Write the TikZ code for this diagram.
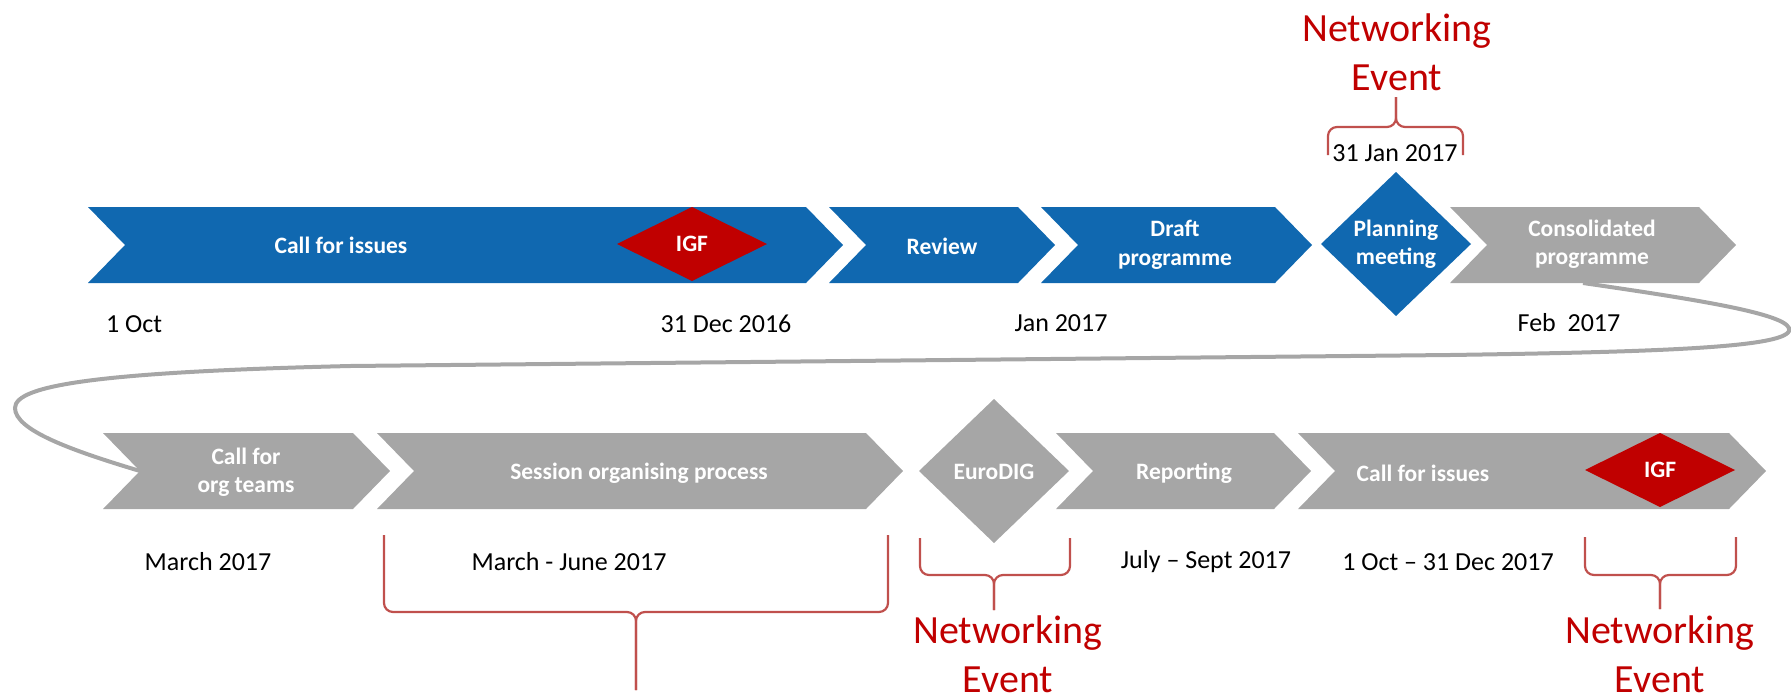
\documentclass[tikz,border=0pt]{standalone}
\usepackage{fontspec}
\setmainfont{Carlito}
\definecolor{stepBlue}{HTML}{1068B0}
\definecolor{stepGray}{HTML}{A6A6A6}
\definecolor{igfRed}{HTML}{C00000}
\definecolor{braceRed}{HTML}{C0504D}
\newcommand\mychev[4]{%
  \fill[#4] (#1,#3-38) -- (#2,#3-38) -- (#2+37,#3) -- (#2,#3+38) -- (#1,#3+38) -- (#1+37,#3) -- cycle;}
\newcommand\mydiam[5]{%
  \fill[#5] (#1-#3,#2) -- (#1,#2-#4) -- (#1+#3,#2) -- (#1,#2+#4) -- cycle;}
\tikzset{
  lab/.style={text=white, font=\bfseries\fontsize{23.5}{28.5}\selectfont, align=center, inner sep=0pt},
  datelab/.style={text=black, font=\fontsize{26}{31}\selectfont, align=center, inner sep=0pt},
  netlab/.style={text=igfRed, font=\fontsize{40}{49}\selectfont, align=center, inner sep=0pt},
  bracepath/.style={draw=braceRed, line width=2.2pt, rounded corners=9pt},
  conn/.style={draw=stepGray, line width=4pt},
}
\begin{document}
\begin{tikzpicture}[x=1pt,y=-1pt]
\useasboundingbox (0,0) rectangle (1791,699);

% connector (behind shapes)
\coordinate (cs) at (1583,283);
\coordinate (co) at (140,471);
\draw[conn] (cs) .. controls (1700,300) and (1795,315) .. (1789,331)
  .. controls (1782,348) and (1650,352) .. (1450,355) -- (350,366)
  .. controls (100,372) and (15,385) .. (15,408)
  .. controls (15,430) and (70,450) .. (co);

% top row
\mychev{88}{806}{245}{stepBlue}
\mychev{829}{1018}{245}{stepBlue}
\mychev{1041}{1275}{245}{stepBlue}
\mydiam{1396}{244}{75}{72}{stepBlue}
\mychev{1450}{1699}{245}{stepGray}
\mydiam{692}{244}{75}{37}{igfRed}

\node[lab] (t1) at (341,245) {Call for issues};
\node[lab] (igf1) at (692,244) {IGF};
\node[lab] (t2) at (942,246) {Review};
\node[lab] (t3) at (1175,245) {Draft\\programme};
\node[lab] (t4) at (1396,244) {Planning\\meeting};
\node[lab] (t5) at (1592,244) {Consolidated\\programme};

\node[datelab] (d1) at (134,324) {1 Oct};
\node[datelab] (d2) at (726,324) {31 Dec 2016};
\node[datelab] (d3) at (1061,323) {Jan 2017};
\node[datelab] (d4) at (1569,323) {Feb \ 2017};
\node[datelab] (d5) at (1395,153) {31 Jan 2017};

\draw[bracepath] (1328,155) -- (1328,127) -- (1396,127) -- (1396,97);
\draw[bracepath] (1463,155) -- (1463,127) -- (1396,127) -- (1396,97);
\node[netlab] (n1) at (1397,52) {Networking\\Event};

% bottom row
\mychev{103}{353}{471}{stepGray}
\mychev{377}{866}{471}{stepGray}
\mydiam{994}{471}{75}{72}{stepGray}
\mychev{1056}{1274}{471}{stepGray}
\mychev{1298}{1729}{471}{stepGray}
\mydiam{1660}{470}{75}{37}{igfRed}

\node[lab] (b1) at (246,472) {Call for\\org teams};
\node[lab] (b2) at (639,473) {Session organising process};
\node[lab] (b3) at (994,472) {EuroDIG};
\node[lab] (b4) at (1184,473) {Reporting};
\node[lab] (b5) at (1423,473) {Call for issues};
\node[lab] (igf2) at (1660,470) {IGF};

\node[datelab] (e1) at (208,562) {March 2017};
\node[datelab] (e2) at (569,562) {March - June 2017};
\node[datelab] (e3) at (1206,562) {July – Sept 2017};
\node[datelab] (e4) at (1448,562) {1 Oct – 31 Dec 2017};

\draw[bracepath] (384,535) -- (384,612) -- (636,612) -- (636,690);
\draw[bracepath] (888,535) -- (888,612) -- (636,612) -- (636,690);
\draw[bracepath] (920,538) -- (920,575) -- (994,575) -- (994,610);
\draw[bracepath] (1070,538) -- (1070,575) -- (994,575) -- (994,610);
\draw[bracepath] (1585,537) -- (1585,575) -- (1660,575) -- (1660,609);
\draw[bracepath] (1736,537) -- (1736,575) -- (1660,575) -- (1660,609);

\node[netlab] (n2) at (1008,654) {Networking\\Event};
\node[netlab] (n3) at (1660,654) {Networking\\Event};
\end{tikzpicture}
\end{document}
